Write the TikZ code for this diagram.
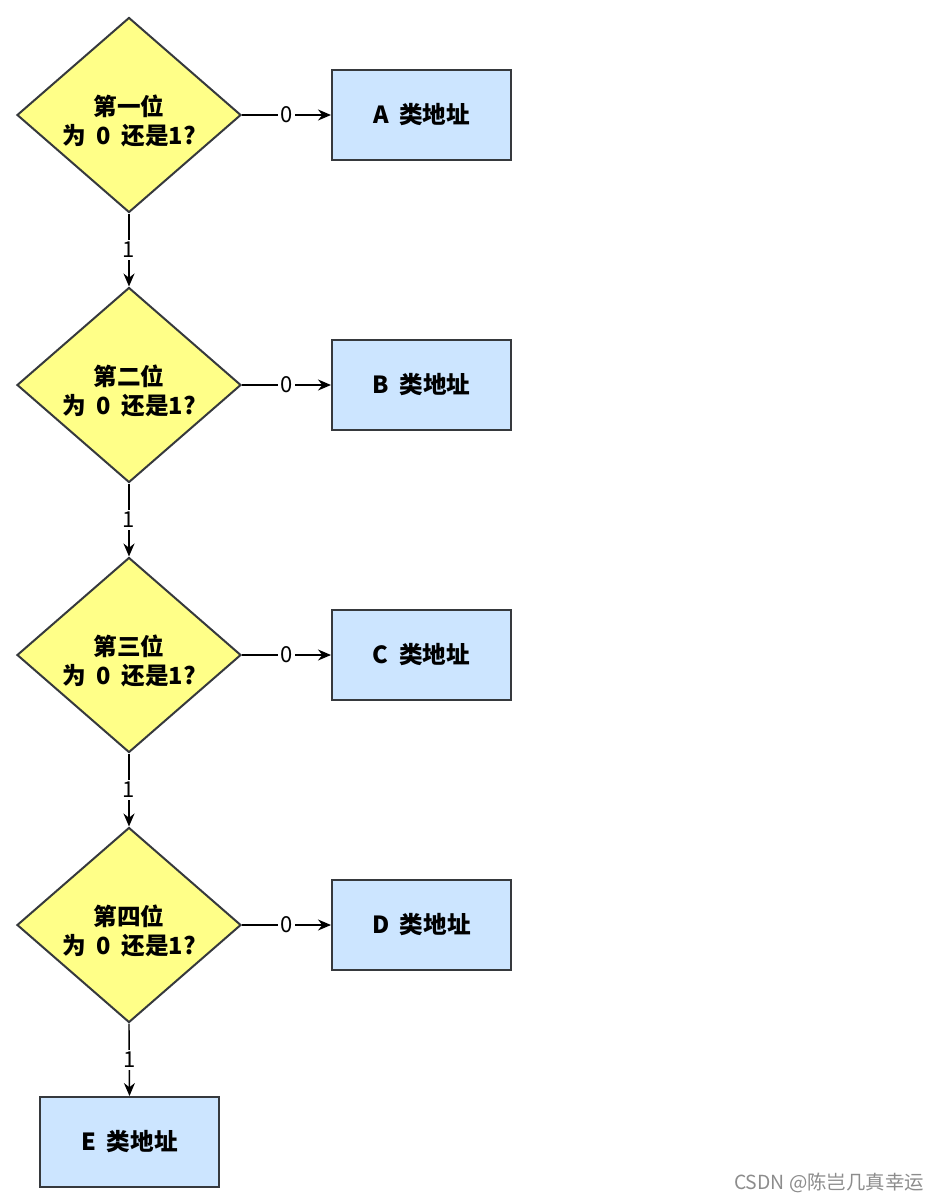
\documentclass[tikz,border=0pt]{standalone}
\usepackage{fontspec}
\newfontfamily\cjk{Noto Sans CJK SC}
\usetikzlibrary{shapes.geometric,arrows.meta,decorations.pathmorphing}
\definecolor{dfill}{HTML}{FFFF88}
\definecolor{bfill}{HTML}{CCE5FF}
\definecolor{edge}{HTML}{36393D}
\newcommand{\gap}{\hspace{0.45em}}
\newcommand{\lowr}{\rule{0pt}{16.5pt}}
\begin{document}
\begin{tikzpicture}[x=0.5pt,y=-0.5pt,
  decision/.style={diamond,draw=edge,fill=dfill,line width=1pt,minimum width=112pt,minimum height=97.5pt,inner sep=0pt,aspect=1.15,align=center,font=\cjk\bfseries\fontsize{11.8}{14.5}\selectfont},
  result/.style={rectangle,draw=edge,fill=bfill,line width=1pt,minimum width=89.5pt,minimum height=45pt,inner sep=0pt,font=\cjk\bfseries\fontsize{11.8}{14.5}\selectfont},
  conn/.style={draw=black,line width=0.7pt,-{Stealth[length=6.5pt,width=5.5pt]}},
  elabel/.style={fill=white,inner sep=1pt,font=\cjk\fontsize{11}{12}\selectfont}]
\useasboundingbox (0,0) rectangle (945,1204);
\node[decision] (d1) at (129,115) {\lowr{}第一位\\为\gap{}0\gap{}还是1?};
\node[decision] (d2) at (129,385) {\lowr{}第二位\\为\gap{}0\gap{}还是1?};
\node[decision] (d3) at (129,655) {\lowr{}第三位\\为\gap{}0\gap{}还是1?};
\node[decision] (d4) at (129,925) {\lowr{}第四位\\为\gap{}0\gap{}还是1?};
\node[result] (a) at (421.5,115) {A\gap{}类地址};
\node[result] (b) at (421.5,385) {B\gap{}类地址};
\node[result] (c) at (421.5,655) {C\gap{}类地址};
\node[result] (d) at (421.5,925) {D\gap{}类地址};
\node[result] (e) at (129.5,1142) {E\gap{}类地址};
\draw[conn] (d1.east) -- node[elabel] {0} (a.west);
\draw[conn] (d2.east) -- node[elabel] {0} (b.west);
\draw[conn] (d3.east) -- node[elabel] {0} (c.west);
\draw[conn] (d4.east) -- node[elabel] {0} (d.west);
\draw[conn] (d1.south) -- node[elabel] {1} (d2.north);
\draw[conn] (d2.south) -- node[elabel] {1} (d3.north);
\draw[conn] (d3.south) -- node[elabel] {1} (d4.north);
\draw[conn] (d4.south) -- node[elabel] {1} (e.north);
\node[font=\cjk\fontsize{9.7}{11}\selectfont,text=black!45,anchor=east] (wm) at (931,1183) {CSDN @陈岂几真幸运};
\end{tikzpicture}
\end{document}
